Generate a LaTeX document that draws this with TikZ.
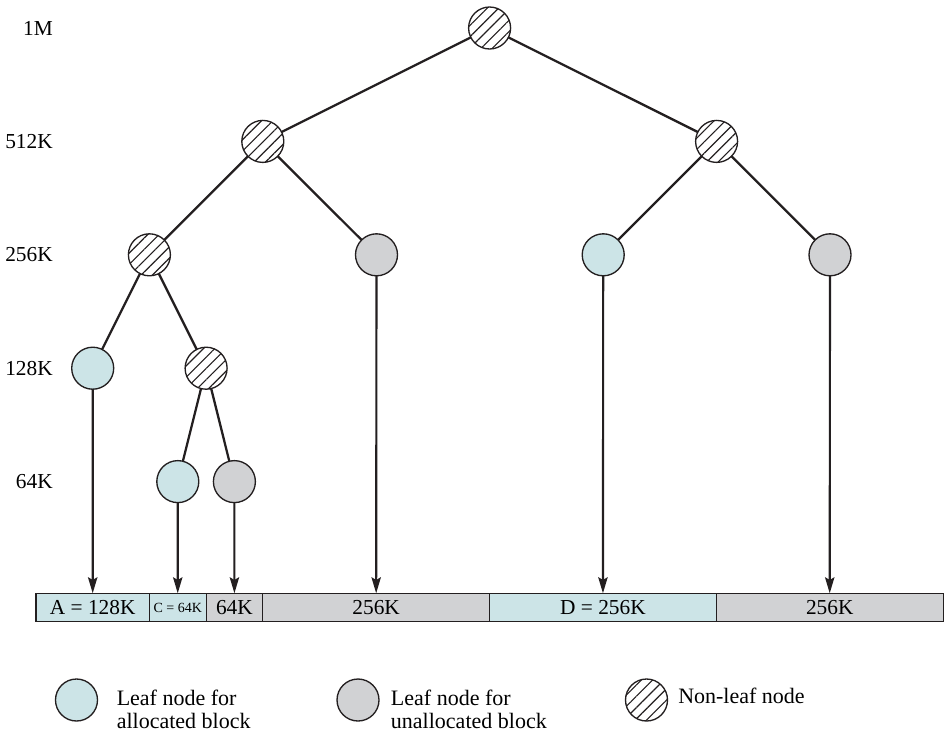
\documentclass[tikz,border=0pt]{standalone}
\usepackage{fontspec}
\setmainfont{Liberation Serif}
\usetikzlibrary{positioning,arrows.meta,patterns.meta}
\definecolor{ink}{HTML}{231F20}
\definecolor{alloc}{HTML}{CCE4E7}
\definecolor{unalloc}{HTML}{D1D2D4}

\begin{document}
\begin{tikzpicture}[
    x=0.75pt, y=-0.75pt,
    font=\fontsize{16}{17}\selectfont,
    bud/.style={circle, draw=ink, line width=1pt, minimum size=31.5pt, inner sep=0pt, outer sep=0pt},
    inner/.style={bud, pattern={Lines[angle=45,distance=6pt,line width=0.85pt]}, pattern color=ink},
    used/.style={bud, fill=alloc},
    spare/.style={bud, fill=unalloc},
    edge/.style={draw=ink, line width=1.7pt},
    arrow/.style={draw=ink, line width=1.6pt, -{Stealth[length=12pt,width=7pt,inset=2pt]}},
    seg/.style={draw=ink, line width=0.8pt, minimum height=21.3pt, inner sep=0pt, outer sep=0pt},
    level/.style={anchor=east, inner sep=0pt},
    keytext/.style={anchor=north west, inner sep=0pt, align=left, font=\fontsize{16.5}{17}\selectfont}
]
\useasboundingbox (0,0) rectangle (944,733);
\def\dy{113.4}
\def\ww{42.52pt}

% Block sizes down the left side.
\foreach \k/\lab in {0/1M,1/512K,2/256K,3/128K,4/64K} {
    \node[level] (lv\k) at (53,28+\k*\dy) {\lab};
}

% Tree of buddies.
\node[inner] (root) at (489.6,28) {};
\node[inner] (h1) at (262.8,28+\dy) {};
\node[inner] (h2) at (716.6,28+\dy) {};
\node[inner] (q1) at (149.4,28+2*\dy) {};
\node[spare] (q2) at (376.5,28+2*\dy) {};
\node[used] (q3) at (603.2,28+2*\dy) {};
\node[spare] (q4) at (830,28+2*\dy) {};
\node[used] (e1) at (92.7,28+3*\dy) {};
\node[inner] (e2) at (206.1,28+3*\dy) {};
\node[used] (s1) at (177.8,28+4*\dy) {};
\node[spare] (s2) at (234.4,28+4*\dy) {};

\draw[edge] (root) -- (h1);
\draw[edge] (root) -- (h2);
\draw[edge] (h1) -- (q1);
\draw[edge] (h1) -- (q2);
\draw[edge] (h2) -- (q3);
\draw[edge] (h2) -- (q4);
\draw[edge] (q1) -- (e1);
\draw[edge] (q1) -- (e2);
\draw[edge] (e2) -- (s1);
\draw[edge] (e2) -- (s2);

% Memory strip.
\node[seg, fill=alloc, minimum width=2*\ww, anchor=west] (bA) at (36,607.5) {A = 128K};
\node[seg, fill=alloc, minimum width=\ww, right=0pt of bA, font=\fontsize{10.5}{12}\selectfont] (bC) {C = 64K};
\node[seg, fill=unalloc, minimum width=\ww, right=0pt of bC] (bF) {64K};
\node[seg, fill=unalloc, minimum width=4*\ww, right=0pt of bF] (bG) {256K};
\node[seg, fill=alloc, minimum width=4*\ww, right=0pt of bG] (bD) {D = 256K};
\node[seg, fill=unalloc, minimum width=4*\ww, right=0pt of bD] (bH) {256K};

\draw[arrow] (e1) -- (bA.north);
\draw[arrow] (s1) -- (bC.north);
\draw[arrow] (s2) -- (bF.north);
\draw[arrow] (q2) -- (bG.north);
\draw[arrow] (q3) -- (bD.north);
\draw[arrow] (q4) -- (bH.north);

% Legend.
\node[used] (kused) at (76.5,700) {};
\node[keytext] (tused) at (116.5,689.7) {Leaf node for\\allocated block};
\node[spare] (kspare) at (358,700) {};
\node[keytext] (tspare) at (390.7,689.7) {Leaf node for\\unallocated block};
\node[inner] (kinner) at (646.5,700) {};
\node[anchor=base west, inner sep=0pt, font=\fontsize{16.5}{17}\selectfont] (tinner) at (678,703.3) {Non-leaf node};
\end{tikzpicture}
\end{document}
